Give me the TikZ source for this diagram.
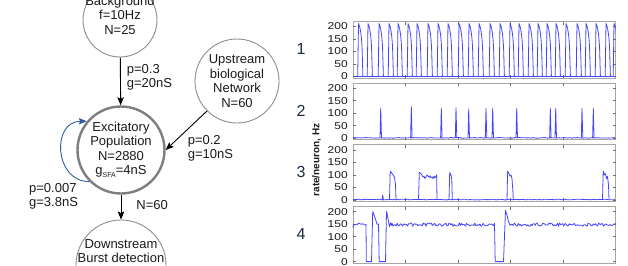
\documentclass[tikz,border=0pt]{standalone}
\usepackage{fontspec}
\setmainfont{Liberation Sans}
\usepackage{xcolor}
\definecolor{cRing}{HTML}{8C8C8C}
\definecolor{cText}{HTML}{1A1A1A}
\definecolor{cLoop}{HTML}{2E5E9E}
\definecolor{cTrace}{HTML}{4646FF}
\definecolor{cFrame}{HTML}{A6A6A6}
\definecolor{cTick}{HTML}{6E6E6E}
\definecolor{cNum}{HTML}{1B2A41}
\usepackage{tikz}
\usetikzlibrary{positioning,arrows.meta}
\tikzset{
  pop-node/.style={circle,draw=cRing,line width=0.9pt,inner sep=0pt},
  pop-main/.style={pop-node,line width=2.4pt,draw=cRing!90!black},
  pop-text/.style={align=center,text=cText,font=\fontsize{13}{14.5}\selectfont,inner sep=0pt},
  conn-label/.style={align=left,text=cText,font=\fontsize{13}{14.5}\selectfont,inner sep=1pt},
  arrow/.style={-{Stealth[length=8pt,width=6.5pt,inset=1.5pt]},line width=0.9pt,draw=black},
  arrow-loop/.style={arrow,draw=cLoop},
  frame/.style={draw=cFrame,line width=1pt},
  tick-mark/.style={draw=cTick,line width=0.6pt},
  tick-label/.style={anchor=east,inner sep=0pt,text=cText,
    font=\fontsize{10}{10}\selectfont,xscale=1.2,transform shape},
  panel-num/.style={text=cNum,font=\fontsize{16}{16}\selectfont},
  axis-label/.style={text=cText,font=\fontsize{10}{10}\selectfont\bfseries},
  trace/.style={draw=cTrace,line width=0.8pt,line join=round},
}

\begin{document}
\begin{tikzpicture}[x=1pt,y=-1pt]
  \useasboundingbox (0,0) rectangle (628,265);
  \pgfmathsetseed{11}
  % network
  \node[pop-node,minimum size=74pt] (bg) at (120,20) {};
  \node[pop-text] (bg-text) at (120,15) {Background\\f=10Hz\\N=25};
  \node[pop-node,pop-text,minimum size=84pt] (up) at (237,81) {Upstream\\biological\\Network\\N=60};
  \node[pop-main,pop-text,minimum size=87pt] (exc) at (121,150)
    {Excitatory\\Population\\N=2880\\g\raisebox{-3pt}{\fontsize{7}{7}\selectfont SFA}=4nS};
  \node[pop-node,minimum size=90pt] (down) at (121,265) {};
  \node[pop-text] (down-text) at (121,251) {Downstream\\Burst detection};

  \draw[arrow] (bg) -- node[conn-label,right=5pt,pos=0.42]{p=0.3\\g=20nS} (exc);
  \draw[arrow] (up.225) -- node[conn-label,pos=0.5,anchor=north west,xshift=0pt,yshift=-3pt]{p=0.2\\g=10nS} (exc.east);
  \draw[arrow] (exc) -- node[conn-label,right=14pt,pos=0.4]{N=60} (down);
  \draw[arrow-loop] (exc.225) to[out=180,in=180,looseness=1.5]
    node[conn-label,at start,anchor=north east,xshift=-10pt]{p=0.007\\g=3.8nS} (exc.140);

  % rate panels
  \node[axis-label,rotate=90] (ylab) at (316.5,160) {rate/neuron, Hz};
  \foreach \k/\z in {1/76.5,2/138.2,3/199.9,4/261.6}{
    \begin{scope}[shift={(353,\z)},y=0.25pt]
      \draw[frame] (0,-6) rectangle (262.5,220);
      \foreach \t in {52.5,105,157.5,210}
        \draw[tick-mark] (\t,-6) -- ++(0,12) (\t,220) -- ++(0,-12);
      \foreach \v in {0,50,...,200}{
        \draw[tick-mark] (0,\v) -- ++(3,0) (262.5,\v) -- ++(-3,0);
        \node[tick-label] (lab-\k-\v) at (-5,\v) {\v};
      }
      \node[panel-num] (num-\k) at (-52,110) {\k};
    \end{scope}
  }

  % 1: regular bursts
  \begin{scope}[shift={(353,76.5)},y=0.25pt]
    \clip (0,-6) rectangle (262.5,220);
    \draw[trace] (0,0) -- (262.5,0);
    \foreach \s in {5.5,15,26,36,45,55,64,75,85,95,106,116,126,137,147,157,166,176,185,194,203,213,224,233,243,253,261}
      \draw[trace] (\s-0.8,0) -- (\s,212) .. controls (\s+1.5,200) and (\s+3,170) .. (\s+3.6,110) -- (\s+4.4,0);
  \end{scope}

  % 2: sparse spikes
  \begin{scope}[shift={(353,138.2)},y=0.25pt]
    \draw[trace] plot[domain=0:262,samples=160] (\x,{3*rnd});
    \foreach \s/\h in {27.7/120,58.3/127,88.3/120,103/122,115.7/117,133/120,139.7/120,163.7/120,197.3/120,202.7/120,229/120,240.3/120}
      \draw[trace] (\s-0.7,0) -- (\s,\h) -- (\s+0.8,0);
  \end{scope}

  % 3: short bursts
  \begin{scope}[shift={(353,199.9)},y=0.25pt]
    \draw[trace] plot[domain=0:262,samples=160] (\x,{3*rnd});
    \draw[trace] (29,0) -- (29.7,20) -- (30.4,0);
    \draw[trace] (36.5,0) -- (37.2,115) -- (38.5,108) -- (40,100) -- (41.5,90) -- (42.5,60) -- (43,0);
    \draw[trace] (65.5,0) -- (66.3,110) -- (68,105) -- (70,92) -- (71,95) -- (72,85) -- (74,100) -- (75,95) -- (76,90)
      -- (77,97) -- (78,88) -- (79,92) -- (80,85) -- (81,95) -- (82,88) -- (83,95) -- (83.6,100) -- (84,0);
    \draw[trace] (96,0) -- (96.7,110) -- (98,100) -- (98.8,80) -- (99.3,0);
    \draw[trace] (154,0) -- (154.6,115) -- (156,105) -- (157,95) -- (158,100) -- (159,85) -- (159.8,40) -- (160.3,0);
    \draw[trace] (249.5,0) -- (250.2,115) -- (251.5,100) -- (252.5,105) -- (253.5,85) -- (254.5,95) -- (255.5,60) -- (256,0);
  \end{scope}

  % 4: sustained activity
  \begin{scope}[shift={(353,261.6)},y=0.25pt]
    \draw[trace] (0,135) -- plot[domain=0.5:13,samples=14] (\x,{150+10*(rnd-0.5)})
      -- (13.3,0) -- (18.5,0) -- (19.7,200) .. controls (21,190) and (22.5,170) .. (24,150) -- (25.5,150)
      -- (26.2,0) -- (32.5,0) -- (33.5,200) -- (34.5,185) -- (35.5,160) -- (36.5,140) -- (37.5,155) -- (38.5,145)
      -- plot[domain=39:141.5,samples=100] (\x,{148+14*(rnd-0.5)})
      -- (142.2,0) -- (150.5,0) -- (152.5,205) -- (154,185) -- (155.5,160) -- (157,145)
      -- plot[domain=158:262.5,samples=100] (\x,{148+14*(rnd-0.5)});
  \end{scope}
\end{tikzpicture}
\end{document}
